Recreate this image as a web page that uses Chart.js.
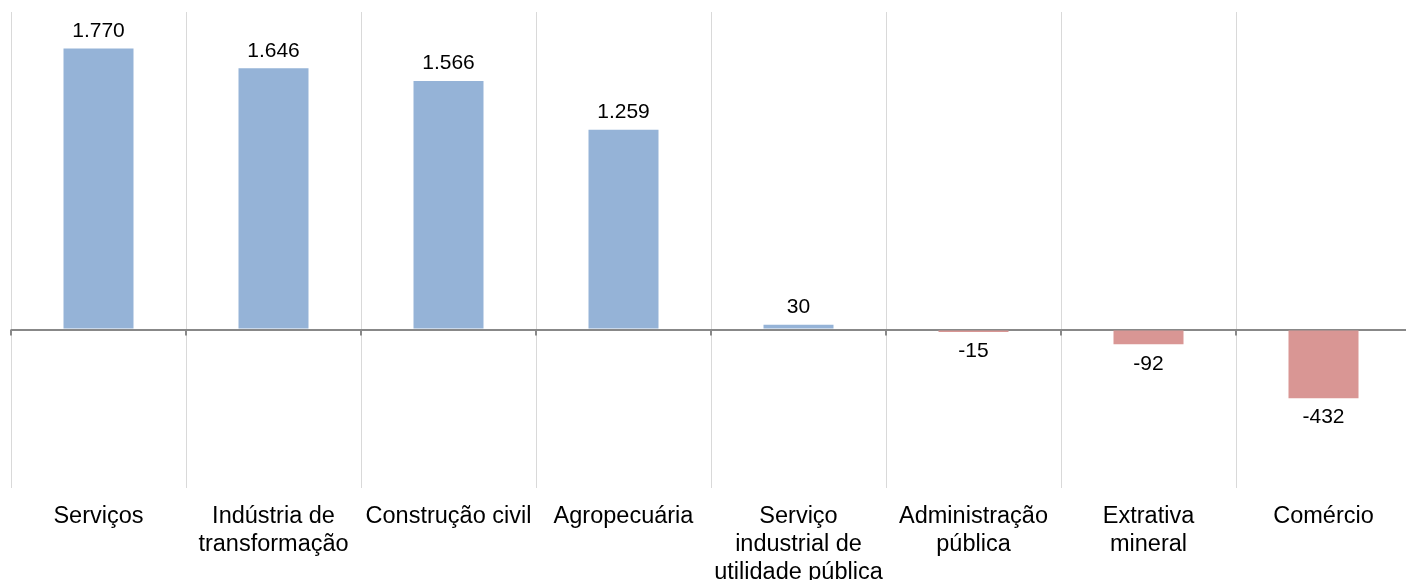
<!DOCTYPE html>
<html>
<head>
<meta charset="utf-8">
<script src="https://cdn.jsdelivr.net/npm/chart.js@4/dist/chart.umd.min.js"></script>
<style>
  html, body { margin: 0; padding: 0; background: #fff; overflow: hidden; }
  #wrap { width: 1411px; height: 601px; }
</style>
</head>
<body>
<div id="wrap"><canvas id="chart"></canvas></div>
<script>
let categorias = [
    'Serviços',
    ['Indústria de', 'transformação'],
    'Construção civil',
    'Agropecuária',
    ['Serviço', 'industrial de', 'utilidade pública'],
    ['Administração', 'pública'],
    ['Extrativa', 'mineral'],
    'Comércio'
];
let saldos = [1770, 1646, 1566, 1259, 30, -15, -92, -432];

let azul = '#95B3D7';
let vermelho = '#D99694';

// rótulos de valor sobre/abaixo das barras
let rotulos = {
    id: 'rotulos',
    afterDatasetsDraw(chart) {
        let c = chart.ctx;
        let meta = chart.getDatasetMeta(0);
        c.save();
        c.font = '21px "Liberation Sans", Arial, sans-serif';
        c.fillStyle = '#000';
        c.textAlign = 'center';
        meta.data.forEach((bar, i) => {
            let v = saldos[i];
            let txt = v.toLocaleString('pt-BR');
            if (v >= 0) {
                c.textBaseline = 'bottom';
                c.fillText(txt, bar.x, bar.y - 7);
            } else {
                c.textBaseline = 'top';
                c.fillText(txt, bar.x, bar.y + 9);
            }
        });
        // pequenas marcas no eixo zero
        let y0 = chart.scales.y.getPixelForValue(0);
        let x = chart.scales.x;
        c.strokeStyle = '#888';
        c.lineWidth = 2;
        for (let i = 0; i <= categorias.length; i++) {
            let px = x.left + i * (x.width / categorias.length);
            c.beginPath();
            c.moveTo(px, y0);
            c.lineTo(px, y0 + 6);
            c.stroke();
        }
        c.restore();
    }
};

let ctx = document.getElementById('chart');

let grafico = new Chart(ctx, {
    type: 'bar',
    data: {
        labels: categorias,
        datasets: [{
            data: saldos,
            backgroundColor: saldos.map(v => v >= 0 ? azul : vermelho),
            barPercentage: 0.4,
            categoryPercentage: 1
        }]
    },
    options: {
        responsive: true,
        maintainAspectRatio: false,
        animation: false,
        layout: { padding: { left: 11, top: 12, right: 0, bottom: 0 } },
        plugins: {
            legend: { display: false },
            tooltip: { enabled: false }
        },
        scales: {
            x: {
                offset: true,
                grid: {
                    offset: true,
                    color: '#d9d9d9',
                    lineWidth: 1,
                    drawTicks: false
                },
                border: { display: false },
                ticks: {
                    color: '#000',
                    padding: 14,
                    maxRotation: 0,
                    autoSkip: false,
                    font: { family: '"Liberation Sans", Arial, sans-serif', size: 23.5, lineHeight: 1.2 }
                }
            },
            y: {
                min: -1000,
                max: 2000,
                ticks: { display: false, stepSize: 500 },
                border: { display: false },
                grid: {
                    drawTicks: false,
                    color: c => c.tick.value === 0 ? '#888' : 'rgba(0,0,0,0)',
                    lineWidth: c => c.tick.value === 0 ? 2 : 0
                }
            }
        }
    },
    plugins: [rotulos]
});
</script>
</body>
</html>
